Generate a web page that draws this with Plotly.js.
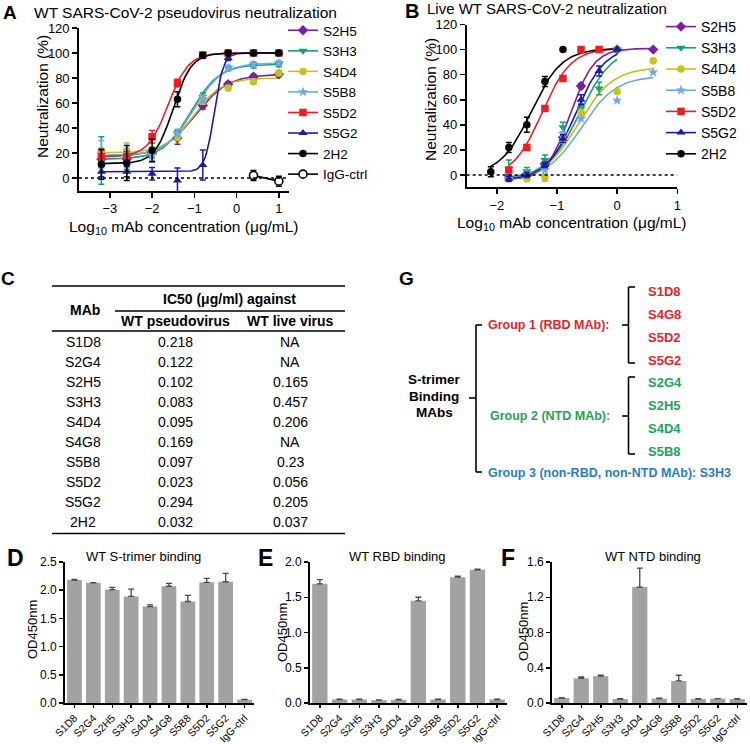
<!DOCTYPE html>
<html><head><meta charset="utf-8">
<script src="https://cdn.plot.ly/plotly-3.0.1.min.js"></script>
<style>html,body{margin:0;padding:0;background:#fff}</style>
</head><body><div id="chart" style="width:750px;height:744px"></div>
<script>
// ---------------- DATA ----------------
// Panel A: pseudovirus neutralization
const xA = [-3.2, -2.6, -2.0, -1.4, -0.8, -0.2, 0.4, 1.0];
const A_S2H5 = [15, 15, 20, 32, 58, 75, 81, 83];
const A_S2H5_err = [4, 4, 4, 5, 3, 2, 2, 2];
const A_S3H3 = [14, 15, 18, 35, 65, 88, 90, 91];
const A_S3H3_err = [19, 8, 5, 3, 3, 2, 2, 2];
const A_S4D4 = [21, 22, 21, 33, 62, 72, 77, 84];
const A_S4D4_err = [3, 6, 4, 3, 3, 2, 2, 2];
const A_S5B8 = [19, 17, 18, 36, 63, 88, 91, 92];
const A_S5B8_err = [11, 5, 4, 3, 3, 2, 2, 2];
const A_S5D2 = [17, 17, 33, 76, 98.5, 100, 100, 100];
const A_S5D2_err = [5, 4, 5, 3, 2, 1, 1, 1];
const A_S5G2 = [5, 5, 3.5, -2, 10.5, 96, 100, 100];
const A_S5G2_err = [4, 4, 5, 10, 12, 2, 1, 1];
const A_2H2 = [11, 12, 22, 63, 98, 100, 100, 100];
const A_2H2_err = [12, 14, 9, 6, 2, 1, 1, 1];
const xA_IgG = [0.4, 1.0];
const A_IgG = [2, -2.5];
const A_IgG_err = [4, 4];

// Panel A fitted four-parameter logistic curves (parameters)
const fitA_names = ['S2H5', 'S3H3', 'S4D4', 'S5B8', 'S5D2', 'S5G2', '2H2'];
const fitA_bottom = [17, 15, 20, 18, 17, 5, 11.5];
const fitA_top = [83, 91, 80, 92, 100, 100, 100];
const fitA_logIC50 = [-0.99, -1.08, -1.02, -1.01, -1.62, -0.53, -1.5];
const fitA_hill = [1.1, 1.3, 1.3, 1.3, 1.8, 4, 2];
const fitA_xstart = [-3.2, -3.2, -3.2, -3.2, -3.2, -3.2, -3.2];
const fitA_xend = [1.0, 1.0, 1.0, 1.0, 1.0, 1.0, 1.0];

// Panel B: live virus neutralization
const xB_S2H5 = [-1.8, -1.5, -1.2, -0.9, -0.6, 0, 0.6];
const B_S2H5 = [-2, 1, 9, 30, 71, 100, 100];
const B_S2H5_err = [2, 2, 4, 3, 2, 0, 0];
const xB_S3H3 = [-1.8, -1.5, -1.2, -0.9, -0.6, -0.3, 0];
const B_S3H3 = [5, 3, 12, 38, 53, 69, 100];
const B_S3H3_err = [7, 3, 4, 4, 4, 5, 0];
const xB_S4D4 = [-1.8, -1.5, -1.2, -0.9, -0.6, 0, 0.6];
const B_S4D4 = [-3, -3, -2, 28, 50, 66.5, 91];
const B_S4D4_err = [1, 1, 3, 2, 2, 0, 0];
const xB_S5B8 = [-1.8, -1.5, -1.2, -0.9, -0.6, 0, 0.6];
const B_S5B8 = [-3, 1, 4, 33, 45, 59.5, 82];
const B_S5B8_err = [0, 0, 0, 0, 0, 0, 0];
const xB_S5D2 = [-1.8, -1.5, -1.2, -0.9, -0.6, -0.3];
const B_S5D2 = [4, 22, 53, 77, 100, 100];
const B_S5D2_err = [1, 1, 1, 1, 0, 0];
const xB_S5G2 = [-1.8, -1.5, -1.2, -0.9, -0.6, -0.3, 0];
const B_S5G2 = [-3, 0, 8, 29, 60, 83, 100];
const B_S5G2_err = [2, 2, 2, 3, 4, 4, 0];
const xB_2H2 = [-2.1, -1.8, -1.5, -1.2, -0.9];
const B_2H2 = [2.6, 22, 40, 74.5, 100];
const B_2H2_err = [4, 4, 6, 4, 0];

const fitB_names = ['S2H5', 'S3H3', 'S4D4', 'S5B8', 'S5D2', 'S5G2', '2H2'];
const fitB_bottom = [-4, -3, -5, -4, -2, -4, 0];
const fitB_top = [101, 102, 86, 79, 101, 102, 101];
const fitB_logIC50 = [-0.78, -0.62, -0.65, -0.6, -1.25, -0.69, -1.43];
const fitB_hill = [2.2, 1.6, 1.5, 1.5, 1.8, 1.8, 1.7];
const fitB_xstart = [-1.8, -1.8, -1.8, -1.8, -1.8, -1.8, -2.1];
const fitB_xend = [0.6, 0, 0.6, 0.6, 0, 0, 0];

// Panel C: IC50 table
const mabs = ['S1D8', 'S2G4', 'S2H5', 'S3H3', 'S4D4', 'S4G8', 'S5B8', 'S5D2', 'S5G2', '2H2'];
const ic50Pseudo = ['0.218', '0.122', '0.102', '0.083', '0.095', '0.169', '0.097', '0.023', '0.294', '0.032'];
const ic50Live = ['NA', 'NA', '0.165', '0.457', '0.206', 'NA', '0.23', '0.056', '0.205', '0.037'];

// Panels D-F: ELISA binding
const barCats = ['S1D8', 'S2G4', 'S2H5', 'S3H3', 'S4D4', 'S4G8', 'S5B8', 'S5D2', 'S5G2', 'IgG-ctrl'];
const trimerOD = [2.18, 2.13, 2.01, 1.89, 1.71, 2.07, 1.80, 2.14, 2.15, 0.06];
const trimerErr = [0.01, 0.005, 0.04, 0.13, 0.03, 0.05, 0.11, 0.07, 0.15, 0.005];
const rbdOD = [1.69, 0.05, 0.05, 0.04, 0.045, 1.45, 0.05, 1.785, 1.89, 0.05];
const rbdErr = [0.06, 0.005, 0.005, 0.005, 0.005, 0.05, 0.005, 0.015, 0.01, 0.005];
const ntdOD = [0.057, 0.28, 0.305, 0.045, 1.315, 0.05, 0.25, 0.045, 0.05, 0.045];
const ntdErr = [0.005, 0.015, 0.01, 0.005, 0.215, 0.005, 0.065, 0.005, 0, 0.005];

// Panel G: grouping
const rootLabel = ['S-trimer', 'Binding', 'MAbs'];
const group1Label = 'Group 1 (RBD MAb):';
const group1 = ['S1D8', 'S4G8', 'S5D2', 'S5G2'];
const group2Label = 'Group 2 (NTD MAb):';
const group2 = ['S2G4', 'S2H5', 'S4D4', 'S5B8'];
const group3Label = 'Group 3 (non-RBD, non-NTD MAb): S3H3';

// ---------------- STYLE ----------------
const W = 750, H = 744;
const FONT = 'Arial, "Liberation Sans", sans-serif';
const fx = p => p / W;
const fy = p => 1 - p / H;
const style = {
  'S2H5': {color: '#7b1fa0', symbol: 'diamond', size: 8},
  'S3H3': {color: '#16a074', symbol: 'triangle-down', size: 8},
  'S4D4': {color: '#c3c31c', symbol: 'circle', size: 7.5},
  'S5B8': {color: '#70a8e4', symbol: 'star', size: 8},
  'S5D2': {color: '#f01c24', symbol: 'square', size: 7.5},
  'S5G2': {color: '#1a1aa8', symbol: 'triangle-up', size: 8},
  '2H2': {color: '#000000', symbol: 'circle', size: 7.5}
};

const traces = [];
function logistic(b, t, c, h, x) { return b + (t - b) / (1 + Math.pow(10, (c - x) * h)); }
function curveTrace(name, b, t, c, h, xs, xe, xa, ya) {
  const n = 150, xx = [], yy = [];
  for (let i = 0; i < n; i++) { const x = xs + (xe - xs) * i / (n - 1); xx.push(x); yy.push(logistic(b, t, c, h, x)); }
  return {x: xx, y: yy, mode: 'lines', line: {color: style[name].color, width: 1.6}, xaxis: xa, yaxis: ya, showlegend: false, hoverinfo: 'skip'};
}
function pointTrace(name, x, y, err, xa, ya) {
  const s = style[name];
  return {x: x, y: y, mode: 'markers', name: name, xaxis: xa, yaxis: ya, showlegend: false,
    marker: {symbol: s.symbol, size: s.size, color: s.color},
    error_y: {type: 'data', array: err, color: s.color, thickness: 1.5, width: 3}};
}
function legendTrace(name, leg) {
  const s = style[name];
  return {x: [null], y: [null], mode: 'lines+markers', name: name, legend: leg, xaxis: leg === 'legend' ? 'x' : 'x2', yaxis: leg === 'legend' ? 'y' : 'y2',
    line: {color: s.color, width: 1.6}, marker: {symbol: s.symbol, size: s.size, color: s.color}};
}

// Panel A
const dataA = {'S2H5': [A_S2H5, A_S2H5_err], 'S3H3': [A_S3H3, A_S3H3_err], 'S4D4': [A_S4D4, A_S4D4_err], 'S5B8': [A_S5B8, A_S5B8_err],
  'S5D2': [A_S5D2, A_S5D2_err], 'S5G2': [A_S5G2, A_S5G2_err], '2H2': [A_2H2, A_2H2_err]};
fitA_names.forEach((n, i) => traces.push(curveTrace(n, fitA_bottom[i], fitA_top[i], fitA_logIC50[i], fitA_hill[i], fitA_xstart[i], fitA_xend[i], 'x', 'y')));
fitA_names.forEach(n => traces.push(pointTrace(n, xA, dataA[n][0], dataA[n][1], 'x', 'y')));
traces.push({x: xA_IgG, y: A_IgG, mode: 'lines+markers', xaxis: 'x', yaxis: 'y', showlegend: false,
  line: {color: '#000', width: 1.6}, marker: {symbol: 'circle', size: 8, color: '#fff', line: {color: '#000', width: 1.6}},
  error_y: {type: 'data', array: A_IgG_err, color: '#000', thickness: 1.5, width: 3}});
fitA_names.forEach(n => traces.push(legendTrace(n, 'legend')));
traces.push({x: [null], y: [null], mode: 'lines+markers', name: 'IgG-ctrl', legend: 'legend', xaxis: 'x', yaxis: 'y',
  line: {color: '#000', width: 1.6}, marker: {symbol: 'circle', size: 8, color: '#fff', line: {color: '#000', width: 1.6}}});

// Panel B
const dataB = {'S2H5': [xB_S2H5, B_S2H5, B_S2H5_err], 'S3H3': [xB_S3H3, B_S3H3, B_S3H3_err], 'S4D4': [xB_S4D4, B_S4D4, B_S4D4_err],
  'S5B8': [xB_S5B8, B_S5B8, B_S5B8_err], 'S5D2': [xB_S5D2, B_S5D2, B_S5D2_err], 'S5G2': [xB_S5G2, B_S5G2, B_S5G2_err], '2H2': [xB_2H2, B_2H2, B_2H2_err]};
fitB_names.forEach((n, i) => traces.push(curveTrace(n, fitB_bottom[i], fitB_top[i], fitB_logIC50[i], fitB_hill[i], fitB_xstart[i], fitB_xend[i], 'x2', 'y2')));
fitB_names.forEach(n => traces.push(pointTrace(n, dataB[n][0], dataB[n][1], dataB[n][2], 'x2', 'y2')));
fitB_names.forEach(n => traces.push(legendTrace(n, 'legend2')));

// Panels D-F bars
function barTrace(vals, errs, xa, ya) {
  return {type: 'bar', x: barCats, y: vals, xaxis: xa, yaxis: ya, width: 0.78, showlegend: false,
    marker: {color: '#a2a2a2'},
    error_y: {type: 'data', symmetric: false, array: errs, arrayminus: errs.map(() => 0), color: '#4a4a4a', thickness: 1.3, width: 3}};
}
traces.push(barTrace(trimerOD, trimerErr, 'x3', 'y3'));
traces.push(barTrace(rbdOD, rbdErr, 'x4', 'y4'));
traces.push(barTrace(ntdOD, ntdErr, 'x5', 'y5'));

// ---------------- LAYOUT ----------------
const axBase = {showline: true, linecolor: '#000', linewidth: 1.8, ticks: 'outside', ticklen: 5, tickwidth: 1.5, tickcolor: '#000',
  showgrid: false, zeroline: false, tickfont: {size: 13, color: '#000', family: FONT}};
const barX = (d) => Object.assign({}, axBase, {domain: d, type: 'category', range: [-0.5, 9.5], tickangle: -45, ticklen: 3,
  tickfont: {size: 10.5, color: '#000', family: FONT}});
const barY = (d, r, dt) => Object.assign({}, axBase, {domain: [fy(703), fy(562)], range: r, dtick: dt, tickformat: '.1f', ticklen: 4,
  tickfont: {size: 12, color: '#000', family: FONT}});

const ann = [];
function addText(text, x, y, size, opts) {
  opts = opts || {};
  ann.push({text: text, x: fx(x), y: fy(y), xref: 'paper', yref: 'paper', showarrow: false,
    xanchor: opts.xa || 'center', yanchor: 'middle', textangle: opts.angle || 0,
    font: {size: size, color: opts.color || '#000', family: FONT}});
}
// panel letters & titles
addText('<b>A</b>', 10, 13, 19);
addText('WT SARS-CoV-2 pseudovirus neutralization', 32, 13, 15.5, {xa: 'left'});
addText('<b>B</b>', 412, 11, 20);
addText('Live WT SARS-CoV-2 neutralization', 425, 9, 15, {xa: 'left'});
addText('<b>C</b>', 8, 278, 19);
addText('<b>G</b>', 406, 278, 19);
addText('<b>D</b>', 15, 558, 23);
addText('<b>E</b>', 265, 558, 23);
addText('<b>F</b>', 508, 558, 23);
addText('WT S-trimer binding', 143, 556, 13);
addText('WT RBD binding', 398, 556, 13);
addText('WT NTD binding', 653, 556, 13);
// axis titles
addText('Neutralization (%)', 42, 97, 15.5, {angle: -90});
addText('Log<sub>10</sub> mAb concentration (μg/mL)', 184, 227, 15.5);
addText('Neutralization (%)', 430, 100, 15.5, {angle: -90});
addText('Log<sub>10</sub> mAb concentration (μg/mL)', 572, 224, 15.5);
addText('OD450nm', 32, 630, 13, {angle: -90});
addText('OD450nm', 282, 633, 13, {angle: -90});
addText('OD450nm', 523, 632, 13, {angle: -90});

// table C
const shapes = [];
function hline(x0, x1, y, w, color) { shapes.push({type: 'line', xref: 'paper', yref: 'paper', x0: fx(x0), x1: fx(x1), y0: fy(y), y1: fy(y), line: {color: color || '#000', width: w}}); }
function vline(x, y0, y1, w) { shapes.push({type: 'line', xref: 'paper', yref: 'paper', x0: fx(x), x1: fx(x), y0: fy(y0), y1: fy(y1), line: {color: '#000', width: w}}); }
hline(52, 345, 286, 1.6);
hline(115, 345, 311, 1.3);
hline(52, 345, 331, 1.6);
hline(52, 345, 533.5, 1.6);
addText('<b>MAb</b>', 85, 310, 14);
addText('<b>IC50 (μg/ml) against</b>', 230, 299, 14);
addText('<b>WT pseudovirus</b>', 175, 321, 14);
addText('<b>WT live virus</b>', 290, 321, 14);
mabs.forEach((m, i) => {
  const y = 341.7 + 20 * i;
  addText(m, 83, y, 14);
  addText(ic50Pseudo[i], 175, y, 14);
  addText(ic50Live[i], 290, y, 14);
});

// panel G
const RED = '#e6222a', GREEN = '#1fa356', BLUE = '#2a7cc0';
rootLabel.forEach((t, i) => addText('<b>' + t + '</b>', 434, 379 + 17 * i, 13.5));
hline(469, 476, 398, 1.6);
vline(476, 325, 472, 1.6);
hline(476, 482, 325, 1.6);
hline(476, 482, 472, 1.6);
addText('<b>' + group1Label + '</b>', 486, 325, 12.5, {xa: 'left', color: RED});
addText('<b>' + group2Label + '</b>', 488, 416, 12.5, {xa: 'left', color: GREEN});
addText('<b>' + group3Label + '</b>', 486, 472.5, 12.5, {xa: 'left', color: BLUE});
hline(622, 628.5, 325, 1.6);
vline(628.5, 287, 363, 1.6);
hline(628.5, 635, 287, 1.6);
hline(628.5, 635, 363, 1.6);
hline(622, 628.5, 416, 1.6);
vline(628.5, 377, 454, 1.6);
hline(628.5, 635, 377, 1.6);
hline(628.5, 635, 454, 1.6);
group1.forEach((m, i) => addText('<b>' + m + '</b>', 646, 291.7 + 22.8 * i, 13, {xa: 'left', color: RED}));
group2.forEach((m, i) => addText('<b>' + m + '</b>', 646, 382.3 + 22.9 * i, 13, {xa: 'left', color: GREEN}));

// dotted zero lines
shapes.push({type: 'line', xref: 'x', yref: 'y', x0: -3.73, x1: 1.24, y0: 0, y1: 0, line: {color: '#000', width: 1.3, dash: 'dot'}});
shapes.push({type: 'line', xref: 'x2', yref: 'y2', x0: -2.5, x1: 1.0, y0: 0, y1: 0, line: {color: '#000', width: 1.3, dash: 'dot'}});

const layout = {
  width: W, height: H, autosize: false,
  margin: {l: 0, r: 0, t: 0, b: 0, pad: 0},
  paper_bgcolor: '#fff', plot_bgcolor: 'rgba(0,0,0,0)',
  font: {family: FONT, color: '#000'},
  showlegend: true,
  xaxis: Object.assign({}, axBase, {domain: [fx(79), fx(289)], range: [-3.73, 1.24], tickvals: [-3, -2, -1, 0, 1], anchor: 'y'}),
  yaxis: Object.assign({}, axBase, {domain: [fy(191), fy(28)], range: [-10.4, 120], tickvals: [0, 20, 40, 60, 80, 100, 120], anchor: 'x'}),
  xaxis2: Object.assign({}, axBase, {domain: [fx(466.7), fx(677.3)], range: [-2.5, 1.0], tickvals: [-2, -1, 0, 1], anchor: 'y2'}),
  yaxis2: Object.assign({}, axBase, {domain: [fy(187.3), fy(24.5)], range: [-9.8, 120], tickvals: [0, 20, 40, 60, 80, 100, 120], anchor: 'x2'}),
  xaxis3: Object.assign(barX([fx(65), fx(254)]), {anchor: 'y3'}),
  yaxis3: Object.assign(barY(null, [0, 2.5], 0.5), {anchor: 'x3'}),
  xaxis4: Object.assign(barX([fx(310), fx(507)]), {anchor: 'y4'}),
  yaxis4: Object.assign(barY(null, [0, 2.0], 0.5), {anchor: 'x4'}),
  xaxis5: Object.assign(barX([fx(552), fx(747)]), {anchor: 'y5'}),
  yaxis5: Object.assign(barY(null, [0, 1.6], 0.4), {anchor: 'x5'}),
  legend: {x: fx(283), y: fy(15), xanchor: 'left', yanchor: 'top', bgcolor: 'rgba(0,0,0,0)', font: {size: 13.5, family: FONT, color: '#000'}, itemwidth: 30, tracegroupgap: 0},
  legend2: {x: fx(661), y: fy(11), xanchor: 'left', yanchor: 'top', bgcolor: 'rgba(0,0,0,0)', font: {size: 14, family: FONT, color: '#000'}, itemwidth: 30, tracegroupgap: 0},
  annotations: ann,
  shapes: shapes,
  bargap: 0.2
};

Plotly.newPlot('chart', traces, layout, {displayModeBar: false, staticPlot: true});
</script></body></html>
